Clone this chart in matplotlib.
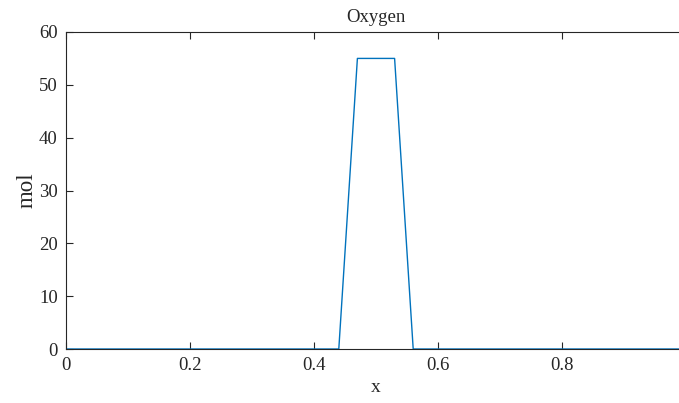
import numpy as np
import matplotlib
matplotlib.use('Agg')
import matplotlib.pyplot as plt
from matplotlib.ticker import FormatStrFormatter

# values
x = [0.0, 0.44, 0.47, 0.50, 0.53, 0.56, 0.99]
oxygen = [0, 0, 55, 55, 55, 0, 0]
xticks = [0, 0.2, 0.4, 0.6, 0.8]
yticks = [0, 10, 20, 30, 40, 50, 60]

plt.rcParams['font.family'] = ['Liberation Serif', 'DejaVu Serif']
plt.rcParams['font.size'] = 13

fig = plt.figure(figsize=(6.79, 4.03), dpi=100)
ax = fig.add_axes([66 / 679, 1 - 349 / 403, 620 / 679, 317 / 403])

ax.plot(x, oxygen, color='#0072BD', lw=1.0)

ax.set_xlim(0, 1.0)
ax.set_ylim(0, 60)
ax.set_xticks(xticks)
ax.set_yticks(yticks)
ax.xaxis.set_major_formatter(FormatStrFormatter('%g'))

for s in ax.spines.values():
    s.set_color('#262626')
    s.set_linewidth(0.8)
ax.tick_params(direction='in', length=5, width=0.8, colors='#262626',
               top=True, right=True, labelsize=13.5, pad=6)
for lab in ax.get_xticklabels() + ax.get_yticklabels():
    lab.set_color('#262626')

ax.set_title('Oxygen', fontsize=13.5, color='#262626', pad=7)
ax.set_xlabel('x', fontsize=14, color='#262626', labelpad=3)
ax.set_ylabel('mol', fontsize=16.5, color='#262626', labelpad=1)

fig.savefig('out.png', dpi=100)
